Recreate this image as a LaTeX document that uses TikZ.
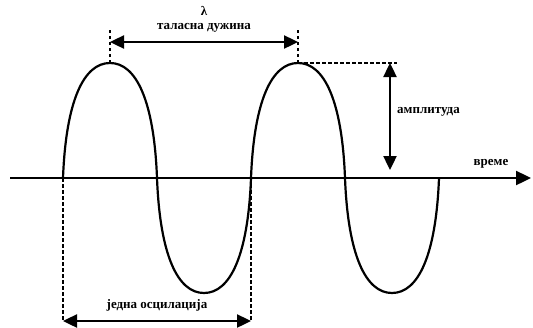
\documentclass[tikz,border=0pt]{standalone}
\usepackage{fontspec}
\setmainfont{Liberation Serif}
\usetikzlibrary{arrows.meta}

\begin{document}
\begin{tikzpicture}[x=1pt, y=-1pt,
  wave/.style={line width=2.2pt},
  guide/.style={line width=2.2pt, dash pattern=on 3.5pt off 2.5pt},
  dim/.style={line width=2.4pt, {Triangle[length=14pt,width=13pt]}-{Triangle[length=14pt,width=13pt]}},
  lbl/.style={font=\bfseries\fontsize{13}{15}\selectfont, inner sep=1pt}
]
\useasboundingbox (0,0) rectangle (533,327);

% time axis
\coordinate (ax0) at (10,178);
\coordinate (ax1) at (531,178);
\draw[line width=2.4pt, -{Triangle[length=15pt,width=14pt]}] (ax0) -- (ax1);
\node[lbl] (time) at (491,164) {време};

% the wave, one lobe at a time
\foreach \x/\s in {63/1,157/-1,251/1,345/-1}{
  \pgfmathsetmacro\xm{\x+47}
  \pgfmathsetmacro\xe{\x+94}
  \pgfmathsetmacro\ym{178-115*\s}
  \draw[wave] (\x,178) .. controls (\x+3,178-78*\s) and (\xm-26,\ym) .. (\xm,\ym)
                       .. controls (\xm+26,\ym) and (\xe-3,178-78*\s) .. (\xe,178);
}

\coordinate (p1) at (110,63);
\coordinate (p2) at (298,63);
\coordinate (z0) at (63,178);
\coordinate (z2) at (251,178);

% wavelength
\coordinate (t1) at (110,27);
\coordinate (t2) at (298,27);
\coordinate (l1) at (110,42);
\coordinate (l2) at (298,42);
\draw[guide] (p1) -- (t1);
\draw[guide] (p2) -- (t2);
\draw[dim] (l1) -- (l2);
\node[lbl] (lam) at (204,11) {λ};
\node[lbl] (wl) at (204,28) {таласна дужина};

% amplitude
\coordinate (a0) at (397,63);
\coordinate (a1) at (390,63);
\coordinate (a2) at (390,170);
\draw[guide] (p2) -- (a0);
\draw[dim] (a1) -- (a2);
\node[lbl, anchor=west] (amp) at (396,112) {амплитуда};

% one oscillation
\coordinate (b0) at (63,321);
\coordinate (b2) at (251,321);
\draw[guide] (z0) -- (b0);
\draw[guide] (z2) -- (b2);
\draw[dim] (b0) -- (b2);
\node[lbl] (osc) at (157,305) {једна осцилација};
\end{tikzpicture}
\end{document}
